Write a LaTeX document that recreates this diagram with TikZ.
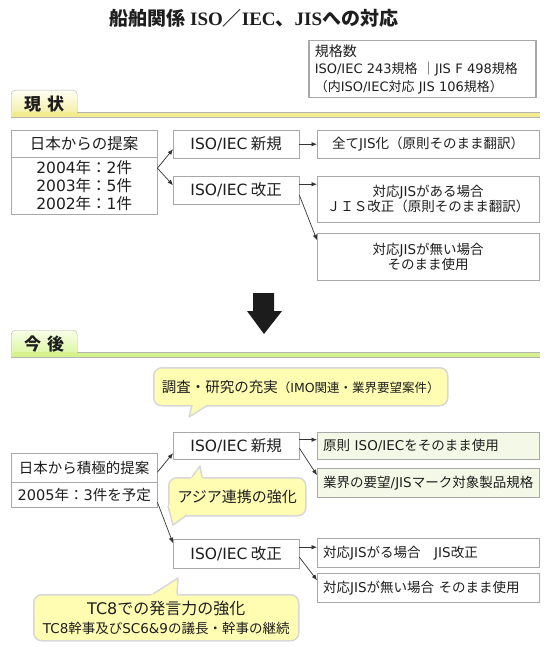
\documentclass[tikz,border=0pt]{standalone}
\usepackage{fontspec}
\setmainfont{Noto Sans CJK JP}
\newfontfamily\dejavu{DejaVu Sans}
\newfontfamily\libserif{Liberation Serif}
\newcommand\latn[1]{{\dejavu #1}}
\newcommand\ttl[1]{{\libserif\bfseries #1}}
\usetikzlibrary{arrows.meta}
\definecolor{TextDark}{HTML}{1E1E1E}
\definecolor{BoxLine}{HTML}{A8A8A8}
\definecolor{LinkGray}{HTML}{333333}
\definecolor{LeafGreen}{HTML}{F3F9E6}
\definecolor{BubbleFill}{HTML}{FFFDB2}
\definecolor{BubbleLine}{HTML}{D8D8D8}
\definecolor{TabLine}{HTML}{B4B4B4}
\definecolor{NowTop}{HTML}{FFFFF4}
\definecolor{NowBot}{HTML}{F3EC9A}
\definecolor{NowBand}{HTML}{F2EB8F}
\definecolor{NextTop}{HTML}{F8FFE8}
\definecolor{NextBot}{HTML}{D9F59A}
\definecolor{NextBand}{HTML}{D6F28E}
\definecolor{ArrowBlack}{HTML}{1C1C1C}

\begin{document}
\begin{tikzpicture}[x=1pt,y=-1pt,>={Latex[length=5.5pt,width=4.5pt]},
  box/.style={draw=BoxLine,fill=white,text=TextDark,inner sep=0pt,anchor=north west,
    align=center,font=\fontsize{15.5}{18}\selectfont},
  leaf/.style={box,font=\fontsize{13.5}{15}\selectfont},
  wleaf/.style={leaf,align=left,text width=210pt,inner xsep=6pt},
  gleaf/.style={wleaf,fill=LeafGreen},
  tab/.style={draw=TabLine,rounded corners=4pt,anchor=north west,minimum width=66pt,
    minimum height=27pt,inner sep=0pt,text=TextDark,font=\fontsize{17}{17}\selectfont\bfseries},
  bubble/.style={draw=BubbleLine,line width=1.5pt,fill=BubbleFill,rounded corners=8pt,
    anchor=north west,inner sep=0pt,align=center,text=TextDark},
  tail/.style={draw=BubbleLine,line width=1.5pt,line join=round},
  link/.style={->,draw=LinkGray,line width=0.7pt}]
  \useasboundingbox (0,0) rectangle (550,647);

  \node[text=TextDark,font=\fontsize{19}{22}\selectfont\bfseries] (title) at (254,18.5)
      {船舶関係 \ttl{ISO}／\ttl{IEC}、\ttl{JIS}への対応};
  \node[draw=BoxLine,line width=1.5pt,anchor=north west,align=left,text width=215pt,
      inner xsep=6pt,inner ysep=0pt,minimum height=57pt,text=TextDark,
      font=\fontsize{13}{17.5}\selectfont] (stdCount) at (308,40)
      {{\fontsize{14}{17.5}\selectfont 規格数}\\\latn{ISO/IEC 243}規格 ｜\latn{JIS F 498}規格\\（内\latn{ISO/IEC}対応 \latn{JIS 106}規格）};

  % 現状
  \node[tab,top color=NowTop,bottom color=NowBot] (tabNow) at (11,90) {現\hspace{6pt}状};
  \fill[NowBand] (11,112) rectangle (540,117);
  \draw[TabLine] (77,112) -- (540,112);
  \draw[TabLine] (11,117.5) -- (540,117.5);

  \node[box,minimum width=146pt,minimum height=27pt] (propA) at (11,130) {日本からの提案};
  \node[box,minimum width=146pt,minimum height=57pt] (yearsA) at (11,157)
      {\latn{2004}年：\latn{2}件\\\latn{2003}年：\latn{5}件\\\latn{2002}年：\latn{1}件};
  \node[box,minimum width=126pt,minimum height=28pt] (newA) at (173,130) {\latn{ISO/IEC} 新規};
  \node[box,minimum width=126pt,minimum height=28pt] (revA) at (173,176) {\latn{ISO/IEC} 改正};
  \node[leaf,minimum width=222pt,minimum height=28pt] (allA) at (317,130)
      {全て\latn{JIS}化（原則そのまま翻訳）};
  \node[leaf,minimum width=222pt,minimum height=46pt] (withA) at (317,176)
      {対応\latn{JIS}がある場合\\ＪＩＳ改正（原則そのまま翻訳）};
  \node[leaf,minimum width=222pt,minimum height=47pt] (noneA) at (317,233)
      {対応\latn{JIS}が無い場合\\そのまま使用};

  \draw[link] ([yshift=17.5pt]yearsA.east) -- ([yshift=-5pt]newA.west);
  \draw[link] ([yshift=17.5pt]yearsA.east) -- ([yshift=5pt]revA.west);
  \draw[link] (newA.east) -- (allA.west);
  \draw[link] ([yshift=6pt]revA.east) -- ([yshift=6pt]revA.east -| withA.west);
  \draw[link] ([yshift=-5pt]revA.east) -- ([yshift=16.5pt]noneA.west);

  \fill[ArrowBlack] (253,293) -- (274,293) -- (274,311) -- (282,311) -- (264,334)
      -- (247,311) -- (253,311) -- cycle;

  % 今後
  \node[tab,top color=NextTop,bottom color=NextBot] (tabNext) at (11,330) {今\hspace{6pt}後};
  \fill[NextBand] (11,352) rectangle (540,357);
  \draw[TabLine] (77,352) -- (540,352);
  \draw[TabLine] (11,357.5) -- (540,357.5);

  \node[bubble,minimum width=294pt,minimum height=38pt] (resBub) at (153,367)
      {{\fontsize{14.5}{16}\selectfont 調査・研究の充実}{\fontsize{12.5}{16}\selectfont（\latn{IMO}関連・業界要望案件）}};
  \fill[BubbleFill] (192.6,402.5) -- (189,417) -- (212,402.5) -- cycle;
  \draw[tail] (192,405) -- (189,417) -- (208,405);

  \node[box,minimum width=146pt,minimum height=29pt,font=\fontsize{14.5}{17}\selectfont] (propB) at (11,453)
      {日本から積極的提案};
  \node[box,minimum width=146pt,minimum height=25pt,font=\fontsize{14.5}{17}\selectfont] (yearsB) at (11,482)
      {\latn{2005}年：\latn{3}件を予定};
  \node[box,minimum width=126pt,minimum height=27pt] (newB) at (173,432) {\latn{ISO/IEC} 新規};
  \node[box,minimum width=126pt,minimum height=29pt] (revB) at (173,539) {\latn{ISO/IEC} 改正};
  \node[gleaf,minimum height=27pt] (keepB) at (317,432) {原則 \latn{ISO/IEC}をそのまま使用};
  \node[gleaf,minimum height=29pt] (markB) at (317,468) {業界の要望\latn{/JIS}マーク対象製品規格};
  \node[wleaf,minimum height=29pt] (withB) at (317,538) {対応\latn{JIS}がる場合\quad\latn{JIS}改正};
  \node[wleaf,minimum height=29pt] (noneB) at (317,573) {対応\latn{JIS}が無い場合 そのまま使用};

  \draw[link] ([yshift=-4.5pt]propB.east) -- ([yshift=-7.5pt]newB.west);
  \draw[link] ([yshift=-7.5pt]yearsB.east) -- ([yshift=10.5pt]revB.west);
  \draw[link] ([yshift=6pt]newB.east) -- ([yshift=6pt]newB.east -| keepB.west);
  \draw[link] ([yshift=-2.5pt]newB.east) -- ([yshift=7.5pt]markB.west);
  \draw[link] ([yshift=6.5pt]revB.east) -- ([yshift=6.5pt]revB.east -| withB.west);
  \draw[link] ([yshift=-3.5pt]revB.east) -- ([yshift=7.5pt]noneB.west);

  \node[bubble,minimum width=137pt,minimum height=38pt,font=\fontsize{15}{18}\selectfont] (asiaBub) at (168,477)
      {アジア連携の強化};
  \fill[BubbleFill] (190.2,479.5) -- (200,466) -- (202.5,479.5) -- cycle;
  \draw[tail] (192,477) -- (200,466) -- (202,477);
  \fill[BubbleFill] (168.8,505) -- (173,525) -- (187,515) -- (186,511) -- (172,505) -- cycle;
  \draw[tail] (168,506) -- (173,525) -- (187,515);

  \node[bubble,minimum width=265pt,minimum height=46pt,font=\fontsize{16}{19}\selectfont] (tcBub) at (33,594)
      {\latn{TC8}での発言力の強化\\
       {\fontsize{13.5}{17}\selectfont \latn{TC8}幹事及び\latn{SC6\&9}の議長・幹事の継続}};
  \fill[BubbleFill] (149.1,596.5) -- (178,578) -- (176.8,596.5) -- cycle;
  \draw[tail] (153,594) -- (178,578) -- (177,594);
\end{tikzpicture}
\end{document}
